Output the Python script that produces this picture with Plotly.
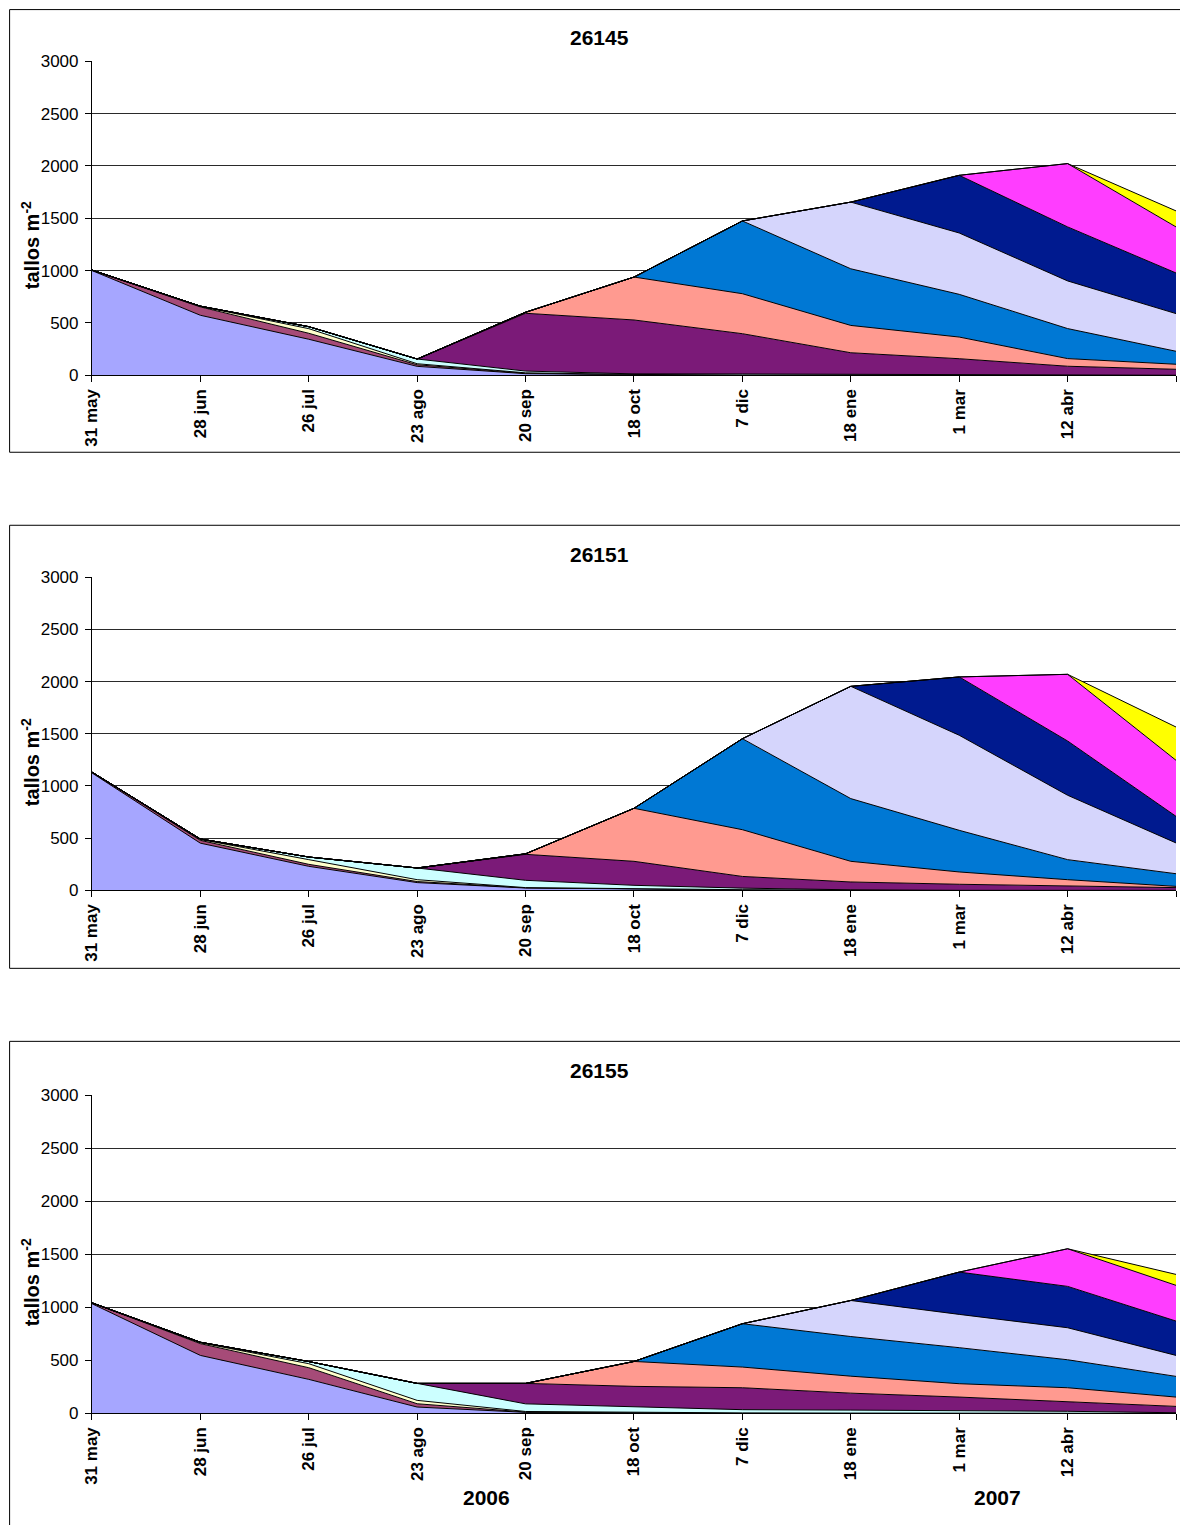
import plotly.graph_objects as go

W, H = 1180, 1525

fechas = ["31 may", "28 jun", "26 jul", "23 ago", "20 sep", "18 oct",
          "7 dic", "18 ene", "1 mar", "12 abr", "24 may"]

colores = ["#A6A6FF", "#A64B78", "#FFFFCC", "#CCFFFF", "#7B1A78", "#FF9A90",
           "#0078D4", "#D5D5FC", "#001A8F", "#FF3DFF", "#FFFF00"]

# Panel 26145 (cohorts stacked bottom -> top)
p26145_c1 = [1000, 573, 344, 85, 15, 5, 2, 0, 0, 0, 0]
p26145_c2 = [5, 80, 57, 15, 5, 2, 0, 0, 0, 0, 0]
p26145_c3 = [0, 5, 44, 10, 3, 1, 0, 0, 0, 0, 0]
p26145_c4 = [0, 2, 19, 45, 17, 5, 10, 8, 3, 2, 0]
p26145_c5 = [0, 0, 0, 0, 552, 515, 385, 207, 155, 84, 57]
p26145_c6 = [0, 0, 0, 0, 10, 410, 382, 261, 207, 73, 48]
p26145_c7 = [0, 0, 0, 0, 0, 0, 695, 541, 408, 287, 124]
p26145_c8 = [0, 0, 0, 0, 0, 0, 0, 637, 586, 455, 360]
p26145_c9 = [0, 0, 0, 0, 0, 0, 0, 0, 551, 516, 388]
p26145_c10 = [0, 0, 0, 0, 0, 0, 0, 0, 0, 605, 440]
p26145_c11 = [0, 0, 0, 0, 0, 0, 0, 0, 0, 0, 153]

# Panel 26151
p26151_c1 = [1125, 452, 230, 74, 22, 10, 5, 2, 0, 0, 0]
p26151_c2 = [8, 27, 19, 10, 3, 2, 1, 0, 0, 0, 0]
p26151_c3 = [0, 8, 45, 18, 1, 1, 0, 0, 0, 0, 0]
p26151_c4 = [0, 5, 25, 112, 70, 35, 15, 3, 0, 0, 0]
p26151_c5 = [0, 0, 0, 0, 249, 230, 112, 75, 58, 45, 26]
p26151_c6 = [0, 0, 0, 0, 5, 508, 448, 198, 118, 57, 12]
p26151_c7 = [0, 0, 0, 0, 0, 0, 872, 601, 399, 192, 121]
p26151_c8 = [0, 0, 0, 0, 0, 0, 0, 1076, 911, 617, 295]
p26151_c9 = [0, 0, 0, 0, 0, 0, 0, 0, 559, 520, 255]
p26151_c10 = [0, 0, 0, 0, 0, 0, 0, 0, 0, 639, 537]
p26151_c11 = [0, 0, 0, 0, 0, 0, 0, 0, 0, 0, 319]

# Panel 26155
p26155_c1 = [1035, 547, 321, 60, 10, 5, 3, 3, 2, 2, 1]
p26155_c2 = [8, 111, 110, 31, 3, 2, 1, 0, 0, 0, 0]
p26155_c3 = [0, 8, 38, 32, 5, 3, 1, 0, 0, 0, 0]
p26155_c4 = [0, 5, 20, 160, 72, 55, 30, 28, 24, 18, 5]
p26155_c5 = [0, 0, 0, 0, 193, 190, 207, 160, 128, 87, 60]
p26155_c6 = [0, 0, 0, 0, 0, 235, 195, 160, 126, 135, 88]
p26155_c7 = [0, 0, 0, 0, 0, 0, 409, 374, 340, 264, 195]
p26155_c8 = [0, 0, 0, 0, 0, 0, 0, 340, 314, 302, 198]
p26155_c9 = [0, 0, 0, 0, 0, 0, 0, 0, 399, 390, 324]
p26155_c10 = [0, 0, 0, 0, 0, 0, 0, 0, 0, 355, 337]
p26155_c11 = [0, 0, 0, 0, 0, 0, 0, 0, 0, 0, 103]

paneles = [
    ("26145", [p26145_c1, p26145_c2, p26145_c3, p26145_c4, p26145_c5, p26145_c6,
               p26145_c7, p26145_c8, p26145_c9, p26145_c10, p26145_c11]),
    ("26151", [p26151_c1, p26151_c2, p26151_c3, p26151_c4, p26151_c5, p26151_c6,
               p26151_c7, p26151_c8, p26151_c9, p26151_c10, p26151_c11]),
    ("26155", [p26155_c1, p26155_c2, p26155_c3, p26155_c4, p26155_c5, p26155_c6,
               p26155_c7, p26155_c8, p26155_c9, p26155_c10, p26155_c11]),
]

y_ticks = [0, 500, 1000, 1500, 2000, 2500, 3000]
anios = ["2006", "2007"]

# layout geometry (pixels of the target picture)
plot_x0, plot_x1 = 92, 1176
plot_rows = [(61, 375), (577, 890), (1095, 1413)]
boxes = [(8, 452), (525, 968), (1041, 1560)]
title_y = [37, 554, 1070]
ylab_y = [245, 762, 1282]

# measured offset/scale between figure pixels and the photographed picture
AX, SX = 9.06, 0.9923
AY, SY = 8.8, 0.9874


def px(x):
    return ((x - AX) / SX) / W


def py(y):
    return 1 - ((y - AY) / SY) / H


FONT = "Liberation Sans, Arial, sans-serif"

fig = go.Figure()
xs = list(range(len(fechas)))

for i, (nombre, capas) in enumerate(paneles):
    sfx = "" if i == 0 else str(i + 1)
    for k, capa in enumerate(capas):
        fig.add_trace(go.Scatter(
            x=xs, y=capa, mode="lines", stackgroup="g%d" % i,
            fill="tonexty", fillcolor=colores[k],
            line=dict(color="black", width=1),
            xaxis="x" + sfx, yaxis="y" + sfx, showlegend=False,
            hoverinfo="skip"))
    top, bot = plot_rows[i]
    fig.layout["xaxis" + sfx] = dict(
        domain=[px(plot_x0), min(1.0, px(plot_x1))], anchor="y" + sfx,
        range=[0, len(fechas) - 1], tickmode="array", tickvals=xs, ticktext=fechas,
        tickangle=-90, ticks="outside", ticklen=6, tickcolor="black",
        showline=True, linecolor="black", linewidth=1, showgrid=False,
        zeroline=False, fixedrange=True,
        tickfont=dict(family=FONT, size=17, color="black", weight="bold"))
    fig.layout["yaxis" + sfx] = dict(
        domain=[py(bot), py(top)], anchor="x" + sfx,
        range=[0, 3000], tickmode="array", tickvals=y_ticks,
        ticks="outside", ticklen=6, tickcolor="black", ticklabelstandoff=3,
        showline=True, linecolor="black", linewidth=1,
        showgrid=True, gridcolor="#2a2a2a", gridwidth=1, zeroline=False,
        fixedrange=True,
        tickfont=dict(family=FONT, size=17, color="black"))
    b0, b1 = boxes[i]
    fig.add_shape(type="rect", xref="paper", yref="paper",
                  x0=max(0.6 / W, px(8)), x1=px(1220),
                  y0=py(b1), y1=min(1 - 0.6 / H, py(b0)),
                  line=dict(color="black", width=1), fillcolor="rgba(0,0,0,0)",
                  layer="below")
    fig.add_annotation(xref="paper", yref="paper", x=px(600), y=py(title_y[i]),
                       text="<b>%s</b>" % nombre, showarrow=False,
                       font=dict(family=FONT, size=21, color="black"),
                       xanchor="center", yanchor="middle")
    fig.add_annotation(xref="paper", yref="paper", x=px(30), y=py(ylab_y[i]),
                       text="<b>tallos m<sup>-2</sup></b>", showarrow=False,
                       textangle=-90,
                       font=dict(family=FONT, size=20, color="black"),
                       xanchor="center", yanchor="middle")

for anio, xc in zip(anios, [487, 997]):
    fig.add_annotation(xref="paper", yref="paper", x=px(xc), y=py(1497),
                       text="<b>%s</b>" % anio, showarrow=False,
                       font=dict(family=FONT, size=21, color="black"),
                       xanchor="center", yanchor="middle")

fig.update_layout(width=W, height=H, margin=dict(l=0, r=0, t=0, b=0),
                  paper_bgcolor="white", plot_bgcolor="white",
                  showlegend=False)

# remove the default page margin so the figure sits at the window origin
fig.write_html("out.html",
               config={"displayModeBar": False, "staticPlot": True},
               post_script="document.documentElement.style.margin='0';"
                           "document.body.style.margin='0';"
                           "document.body.style.padding='0';"
                           "document.body.style.overflow='hidden';")
